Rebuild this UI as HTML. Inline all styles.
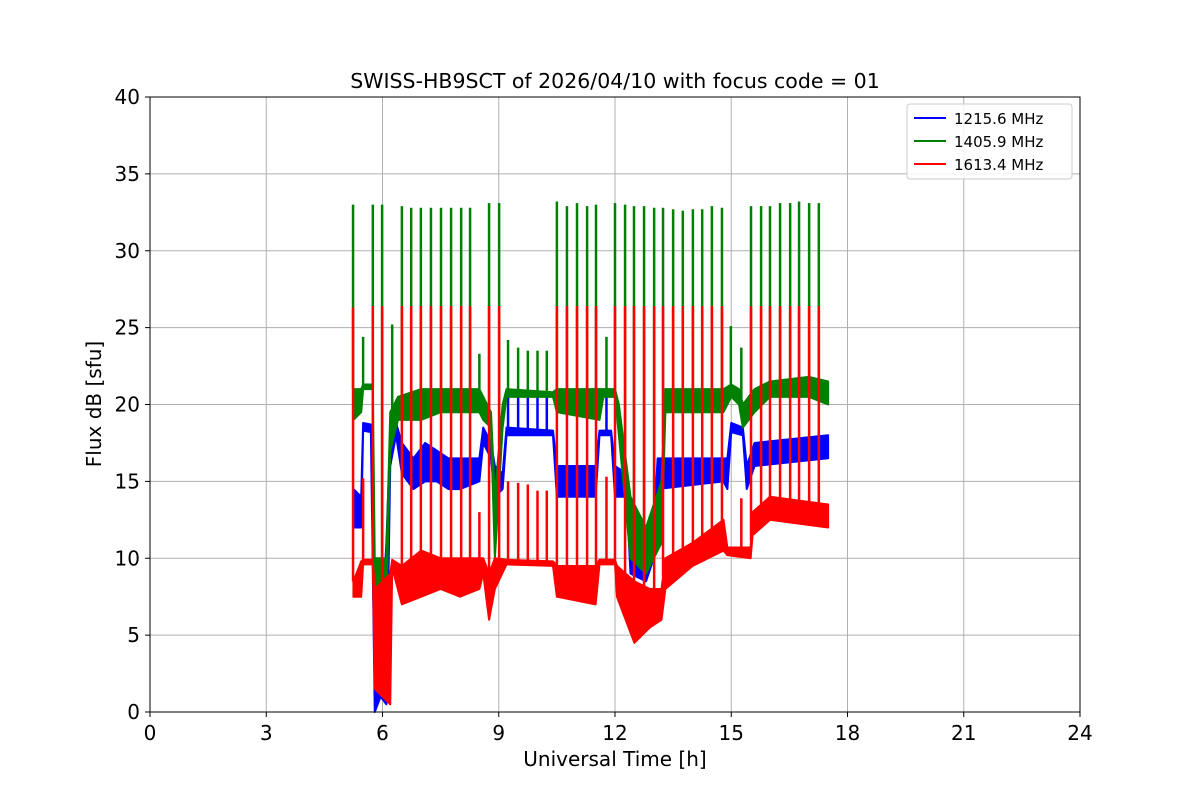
<!DOCTYPE html>
<html><head><meta charset="utf-8"><style>
body{margin:0;background:#fff}
svg{display:block;font-family:"DejaVu Sans","Liberation Sans",sans-serif}
</style></head><body>
<svg id="c" width="1200" height="800">
<rect width="1200" height="800" fill="#fff"/>
<g id="grid"></g>
<g id="series"></g>
<rect x="150" y="97" width="930" height="615" fill="none" stroke="#000" stroke-width="1"/>
<g id="ticks"></g>
<text x="615" y="88" text-anchor="middle" font-size="20.5">SWISS-HB9SCT of 2026/04/10 with focus code = 01</text>
<text x="615" y="766" text-anchor="middle" font-size="20">Universal Time [h]</text>
<text transform="translate(101,404) rotate(-90)" text-anchor="middle" font-size="20">Flux dB [sfu]</text>
<g>
<rect x="907" y="104" width="165" height="75" rx="3" fill="#fff" fill-opacity="0.85" stroke="#ccc"/>
<g><line x1="914" y1="118" x2="946" y2="118" stroke="#0000ff" stroke-width="2"/><text x="954" y="124" font-size="15">1215.6 MHz</text></g>
<g><line x1="914" y1="141" x2="946" y2="141" stroke="#008000" stroke-width="2"/><text x="954" y="147" font-size="15">1405.9 MHz</text></g>
<g><line x1="914" y1="164" x2="946" y2="164" stroke="#ff0000" stroke-width="2"/><text x="954" y="170" font-size="15">1613.4 MHz</text></g>
</g>
</svg>
<script>
const xTicks=[0,3,6,9,12,15,18,21,24];
const yTicks=[0,5,10,15,20,25,30,35,40];
const blueT=[5.25,5.45,5.5,5.7,5.8,5.95,6.1,6.2,6.35,6.5,6.8,7.1,7.4,7.7,8.0,8.3,8.5,8.6,8.8,8.9,9.1,9.2,10.4,10.5,11.5,11.6,11.9,12.0,12.3,12.4,12.8,13.0,13.1,14.8,14.9,15.0,15.3,15.4,15.6,17.5];
const blueLo=[12,12,18.3,18.2,0,1,0.5,16,18,15.5,14.5,15,15,14.5,14.5,14.8,15,17.5,16.5,14,14.5,18,18,14,14,18,18,14,14,9,8.5,10,14.5,15,14.5,18.2,18,14.5,16,16.5];
const blueHi=[14.5,14,18.8,18.7,5,4,11,18,18.8,17.5,16.5,17.5,17,16.5,16.5,16.5,16.5,18.5,17.5,16,15.5,18.5,18.3,16,16,18.3,18.3,16,15.5,12,11,12,16.5,16.5,16.5,18.8,18.5,16,17.5,18];
const greenT=[5.25,5.45,5.5,5.75,5.8,6.0,6.1,6.2,6.4,7.0,7.5,8.0,8.5,8.6,8.8,8.9,9.1,9.2,10.4,10.5,11.6,11.7,12.0,12.1,12.4,12.8,13.2,13.3,14.8,15.0,15.2,15.3,15.6,16.0,17.0,17.5];
const greenLo=[19,19.5,21,21,6,6,7,17,19,19,19.5,19.5,19.5,19,18.5,10,18.5,20.5,20.5,19.5,19,20.5,20.5,18,10,9,11,19.5,19.5,20.5,20,18.5,19.5,20.5,20.5,20];
const greenHi=[21,21,21.3,21.3,10,10,10,19.5,20.5,21,21,21,21,20.5,19.5,14,20,21,20.8,21,21,21,21,20,14,12,15,21,21,21.3,21,20,21,21.5,21.8,21.5];
const redT=[5.25,5.45,5.5,5.75,5.8,6.2,6.25,6.5,7.0,7.5,8.0,8.5,8.6,8.75,8.9,9.2,10.4,10.5,11.5,11.6,12.0,12.05,12.5,12.9,13.2,13.3,14.0,14.8,14.9,15.5,15.55,16.0,17.5];
const redLo=[7.5,7.5,9.6,9.6,1.5,0.5,9.4,7,7.5,8,7.5,8,9,6,8,9.6,9.5,7.5,7,9.6,9.6,7.5,4.5,5.5,6,8,9.5,10.5,10.2,10,11.5,12.5,12];
const redHi=[8.5,9.8,9.9,9.9,8,9,9.9,9.5,10.5,10,10,10,10,9,10,9.9,9.8,9.5,9.5,9.9,9.9,9.5,8.5,8,8,10,11,12.5,10.7,10.7,13,14,13.5];
const spikeT=[5.24,5.75,5.99,6.5,6.74,6.99,7.25,7.51,7.77,8.03,8.26,8.75,9.01,10.5,10.76,11.02,11.28,11.51,12.0,12.26,12.49,12.75,13.01,13.24,13.5,13.75,14.01,14.25,14.5,14.76,15.51,15.77,16.0,16.26,16.52,16.75,17.01,17.26];
const spikeGreenPeak=[33,33,33,32.9,32.8,32.8,32.8,32.8,32.8,32.8,32.8,33.1,33.1,33.2,32.9,33.1,32.9,33,33.1,33,32.9,32.9,32.8,32.8,32.7,32.6,32.7,32.7,32.9,32.8,32.9,32.9,32.9,33.1,33.1,33.2,33.1,33.1];
const spikeRedPeak=[26.3,26.4,26.4,26.4,26.4,26.4,26.4,26.4,26.4,26.4,26.4,26.4,26.4,26.4,26.4,26.4,26.4,26.4,26.4,26.4,26.4,26.4,26.4,26.4,26.4,26.4,26.4,26.4,26.4,26.4,26.4,26.4,26.4,26.4,26.4,26.4,26.4,26.4];
const minorT=[5.5,6.25,8.5,9.24,9.5,9.75,10.0,10.24,11.78,14.99,15.26];
const minorPeak=[24.4,25.2,23.3,24.2,23.7,23.5,23.5,23.5,24.4,25.1,23.7];
const minorBlueT=[9.24,9.5,9.75,10.0,10.24,11.78];
const minorBluePeak=[20.6,20.6,20.6,20.6,20.6,20.6];
const minorRedT=[5.5,8.5,9.24,9.5,9.75,10.0,10.24,11.78,15.26];
const minorRedPeak=[15.2,13,15,14.9,14.8,14.4,14.4,15.3,13.9];

const NS='http://www.w3.org/2000/svg';
const X=t=>150+t*930/24, Y=v=>712-v*615/40;
function mk(tag,attrs,parent){const e=document.createElementNS(NS,tag);for(const k in attrs)e.setAttribute(k,attrs[k]);parent.appendChild(e);return e;}
function interp(T,V,t){if(t<=T[0])return V[0];for(let i=1;i<T.length;i++)if(t<=T[i]){const f=(t-T[i-1])/(T[i]-T[i-1]);return V[i-1]+f*(V[i]-V[i-1]);}return V[V.length-1];}
const grid=document.getElementById('grid'),ticks=document.getElementById('ticks'),ser=document.getElementById('series');
xTicks.forEach(t=>{
  const l=mk('line',{x1:X(t),x2:X(t),y1:97,y2:712,stroke:'#b0b0b0','stroke-width':1},grid);
  
  
  mk('line',{x1:X(t),x2:X(t),y1:712,y2:717,stroke:'#000'},ticks);
  const tx=mk('text',{x:X(t),y:740,'text-anchor':'middle','font-size':20},ticks);tx.textContent=t;
  
  
});
yTicks.forEach(v=>{
  const l=mk('line',{x1:150,x2:1080,y1:Y(v),y2:Y(v),stroke:'#b0b0b0','stroke-width':1},grid);
  
  
  mk('line',{x1:145,x2:150,y1:Y(v),y2:Y(v),stroke:'#000'},ticks);
  const tx=mk('text',{x:140,y:Y(v)+7,'text-anchor':'end','font-size':20},ticks);tx.textContent=v;
  
  
});
function band(T,L,H,color,name){
  let pts=T.map((t,i)=>X(t)+','+Y(H[i]));
  for(let i=T.length-1;i>=0;i--)pts.push(X(T[i])+','+Y(L[i]));
  const p=mk('polygon',{points:pts.join(' '),fill:color,stroke:color,'stroke-width':2,'stroke-linejoin':'round'},ser);
  
  
}
function spikes(T,P,baseT,baseV,color,name){
  T.forEach((t,i)=>{
    const l=mk('line',{x1:X(t),x2:X(t),y1:Y(interp(baseT,baseV,t)),y2:Y(P[i]),stroke:color,'stroke-width':2.5},ser);
    
    
  });
}
band(blueT,blueLo,blueHi,'#0000ff','series-1215-band');
spikes(minorBlueT,minorBluePeak,blueT,blueHi,'#0000ff','blue-minor-spike');
band(greenT,greenLo,greenHi,'#008000','series-1405-band');
spikes(minorT,minorPeak,greenT,greenHi,'#008000','green-minor-spike');
spikes(spikeT,spikeGreenPeak,greenT,greenHi,'#008000','green-spike');
band(redT,redLo,redHi,'#ff0000','series-1613-band');
spikes(minorRedT,minorRedPeak,redT,redHi,'#ff0000','red-minor-spike');
spikes(spikeT,spikeRedPeak,redT,redHi,'#ff0000','red-spike');
</script>
</body></html>
